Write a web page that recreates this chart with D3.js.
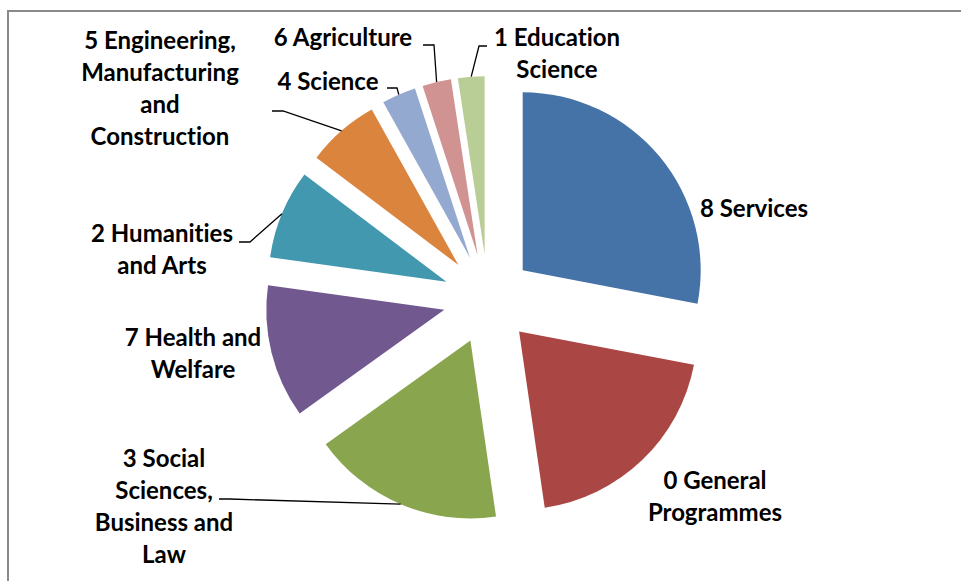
<!DOCTYPE html>
<html>
  <head>
  <script src="https://cdn.jsdelivr.net/npm/d3@7/dist/d3.min.js"></script>
  <style>
body { margin: 0; background: #fff; }
.frame { fill: none; stroke: #898989; stroke-width: 2; }
.label text { font-family: Lato, "Noto Sans", sans-serif; font-weight: bold; font-size: 24px; fill: #000;
  font-variant-ligatures: none; font-feature-settings: "liga" 0; }
.leader { fill: none; stroke: #000; stroke-width: 1.3; }
  </style>
 </head>
  <body>
    <div id="chart"></div>
    <script type="text/javascript">

// share of each field, clockwise from 12 o'clock
var categories = ["8 Services", "0 General Programmes", "3 Social Sciences, Business and Law",
                  "7 Health and Welfare", "2 Humanities and Arts",
                  "5 Engineering, Manufacturing and Construction", "4 Science",
                  "6 Agriculture", "1 Education Science"];
var values = [28.0, 19.7, 17.4, 12.1, 8.1, 6.6, 3.1, 2.6, 2.4];
var labelLines = [
  ["8 Services"],
  ["0 General", "Programmes"],
  ["3 Social", "Sciences,", "Business and", "Law"],
  ["7 Health and", "Welfare"],
  ["2 Humanities", "and Arts"],
  ["5 Engineering,", "Manufacturing", "and", "Construction"],
  ["4 Science"],
  ["6 Agriculture"],
  ["1 Education", "Science"]
];
var colors = ["#4572a7", "#aa4643", "#89a54e", "#71588f", "#4198af",
              "#db843d", "#93a9cf", "#d19392", "#b9cd96"];

var w = 961, h = 581,
    cx = 488, cy = 299,
    radius = 178,
    explode = 45,
    lineH = 32;

// label layout: centre x, first baseline; leader start points (null = no leader)
var labelPos = [[754, 217], [715, 489], [164, 467], [193, 346], [162, 242],
                [160, 49], [328, 90], [343, 46], [557, 46]];
var leaderStart = [null, null, [[219, 499], [230, 499]], null, [[239, 242], [250, 242]],
                   [[272, 111], [283, 111]], [[387, 88], [397, 88]],
                   [[423, 45], [434, 45]], [[487, 46], [479, 46]]];

var svg = d3.select("#chart").append("svg")
    .attr("width", w)
    .attr("height", h);

svg.append("rect")
    .attr("class", "frame")
    .attr("x", 8).attr("y", 11)
    .attr("width", 1000).attr("height", 1000);

var pie = d3.pie().sort(null).value(function(d) { return d; });
var arcs = pie(values);

var arc = d3.arc().innerRadius(0).outerRadius(radius);

function offset(d, r) {
  var a = (d.startAngle + d.endAngle) / 2;
  return [cx + Math.sin(a) * r, cy - Math.cos(a) * r];
}

svg.append("g").selectAll("path")
    .data(arcs)
  .enter().append("path")
    .attr("transform", function(d) { var o = offset(d, explode); return "translate(" + o + ")"; })
    .attr("d", arc)
    .style("fill", function(d, i) { return colors[i]; });

// leader lines end on the middle of each slice's outer edge
svg.append("g").selectAll("path")
    .data(arcs.filter(function(d, i) { return leaderStart[i]; }))
  .enter().append("path")
    .attr("class", "leader")
    .attr("d", function(d) {
      var o = offset(d, explode), a = (d.startAngle + d.endAngle) / 2;
      var end = [o[0] + Math.sin(a) * radius, o[1] - Math.cos(a) * radius];
      return "M" + leaderStart[d.index].concat([end]).join("L");
    });

var label = svg.append("g").attr("class", "label").selectAll("text")
    .data(labelLines)
  .enter().append("text")
    .attr("text-anchor", "middle")
    .attr("transform", function(d, i) { return "translate(" + labelPos[i] + ")"; });

label.selectAll("tspan")
    .data(function(d) { return d; })
  .enter().append("tspan")
    .attr("x", 0)
    .attr("y", function(d, i) { return i * lineH; })
    .text(function(d) { return d; });
    </script>
  </body>
</html>
